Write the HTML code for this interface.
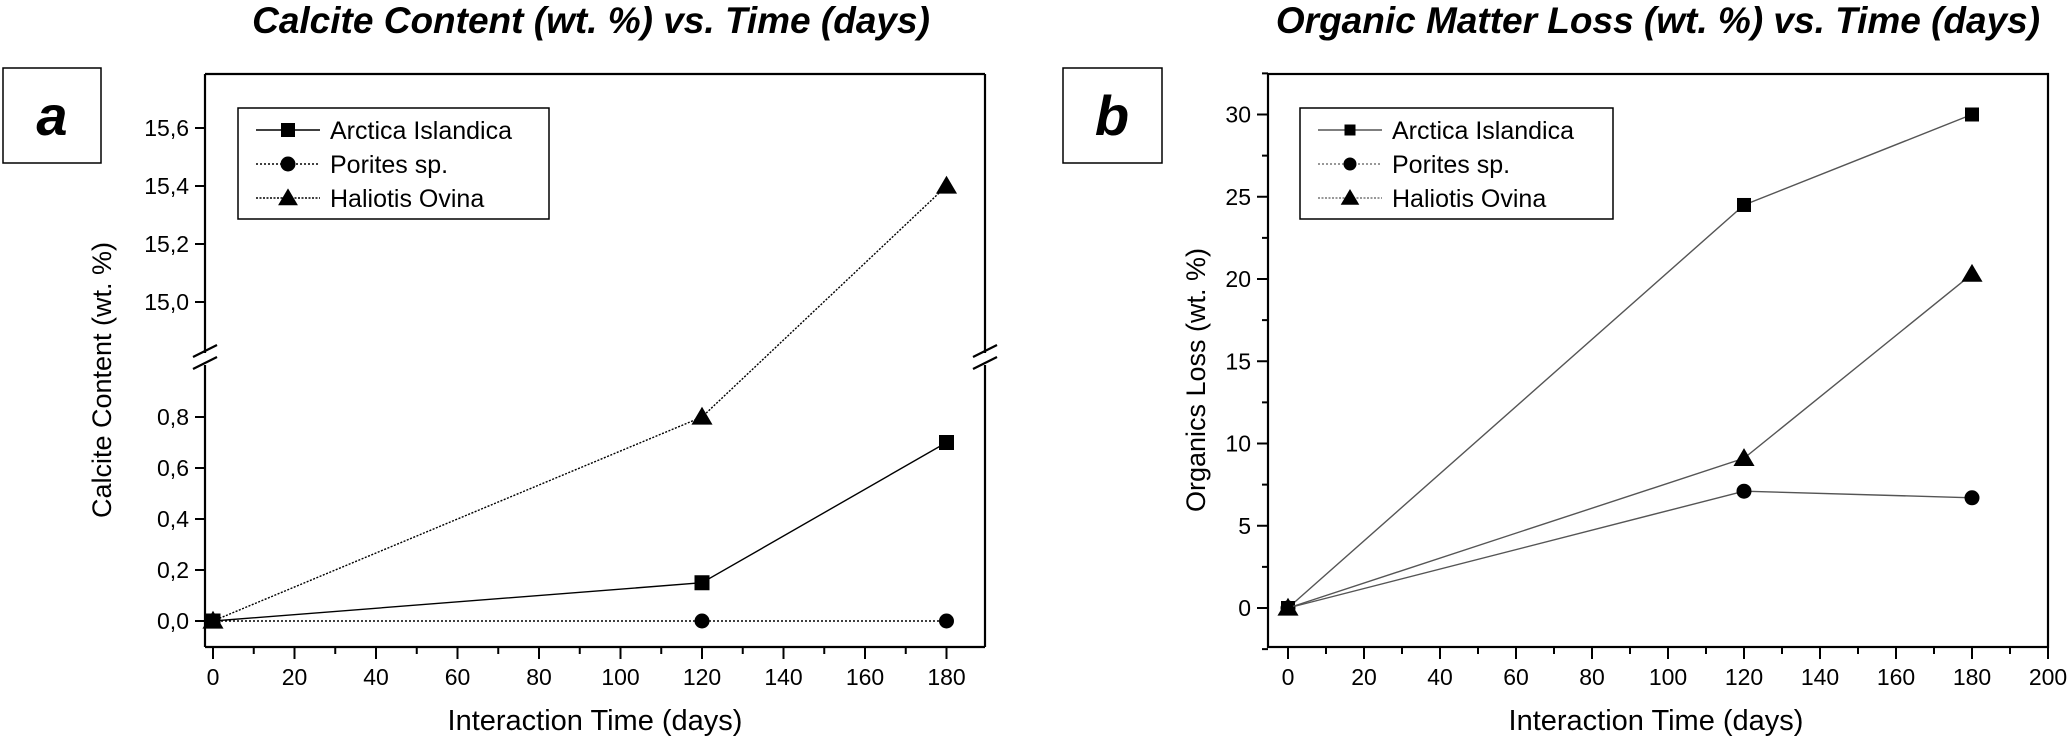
<!DOCTYPE html>
<html><head><meta charset="utf-8"><style>
html,body{margin:0;padding:0;background:#fff;}
svg{display:block;font-family:"Liberation Sans",Arial,sans-serif;}
</style></head><body>
<svg id="c" width="2067" height="739" viewBox="0 0 2067 739" xmlns="http://www.w3.org/2000/svg"></svg>
<script>
const days = [0, 120, 180];
const calArctica = [0, 0.15, 0.7];
const calPorites = [0, 0, 0];
const calHaliotis = [0, 0.8, 15.4];
const orgArctica = [0, 24.5, 30];
const orgPorites = [0, 7.1, 6.7];
const orgHaliotis = [0, 9.1, 20.3];
const seriesNames = ["Arctica Islandica", "Porites sp.", "Haliotis Ovina"];
const xTicksA = [0, 20, 40, 60, 80, 100, 120, 140, 160, 180];
const xTicksB = [0, 20, 40, 60, 80, 100, 120, 140, 160, 180, 200];
const yTicksLow = [0, 0.2, 0.4, 0.6, 0.8];
const yTicksHigh = [15.0, 15.2, 15.4, 15.6];
const yTicksB = [0, 5, 10, 15, 20, 25, 30];

const NS = "http://www.w3.org/2000/svg";
const svg = document.getElementById('c');
function mk(tag, attrs, parent, text) {
  const e = document.createElementNS(NS, tag);
  for (const k in attrs) e.setAttribute(k, attrs[k]);
  if (text !== undefined) e.textContent = text;
  (parent || svg).appendChild(e);
  return e;
}
function fmt(v){ return v.toFixed(1).replace('.', ','); }

// ---------- Panel A ----------
const A = {l:205, r:985, t:74, b:647};
const xA = v => 213 + v * 4.075;
const yLow = v => 621 - v * 255;
const yHigh = v => 302 - (v - 15.0) * 290;
const breakY = 353, breakY2 = 365;
const yA = v => v > 5 ? yHigh(v) : yLow(v);

const gA = mk('g', {}, svg);



let t = mk('text', {x:(A.l+A.r)/2 - 4, y:33, 'font-size':37, 'font-weight':'bold', 'font-style':'italic', 'text-anchor':'middle'}, gA, 'Calcite Content (wt. %) vs. Time (days)');



let box = mk('g', {}, gA);


mk('rect', {x:3, y:68, width:98, height:95, fill:'#fff', stroke:'#000', 'stroke-width':1.5}, box);
mk('text', {x:52, y:135, 'font-size':56, 'font-weight':'bold', 'font-style':'italic', 'text-anchor':'middle'}, box, 'a');

let fr = mk('g', {stroke:'#000', 'stroke-width':2.2, fill:'none'}, gA);


mk('line', {x1:A.l, y1:A.t, x2:A.r, y2:A.t}, fr);
mk('line', {x1:A.l, y1:A.b, x2:A.r, y2:A.b}, fr);
mk('line', {x1:A.l, y1:A.t, x2:A.l, y2:breakY}, fr);
mk('line', {x1:A.l, y1:breakY2, x2:A.l, y2:A.b}, fr);
mk('line', {x1:A.r, y1:A.t, x2:A.r, y2:breakY}, fr);
mk('line', {x1:A.r, y1:breakY2, x2:A.r, y2:A.b}, fr);
[A.l, A.r].forEach(x => {
  mk('line', {x1:x-12, y1:breakY+4, x2:x+12, y2:breakY-8}, fr);
  mk('line', {x1:x-12, y1:breakY2+4, x2:x+12, y2:breakY2-8}, fr);
});

let xa = mk('g', {}, gA);


for (let v = 0; v <= 180; v += 10) {
  const major = v % 20 === 0;
  mk('line', {x1:xA(v), y1:A.b, x2:xA(v), y2:A.b + (major ? 12 : 7), stroke:'#000', 'stroke-width':2}, xa);
}
xTicksA.forEach(v => mk('text', {x:xA(v), y:685, 'font-size':23, 'text-anchor':'middle'}, xa, String(v)));
t = mk('text', {x:595, y:730, 'font-size':29, 'text-anchor':'middle'}, gA, 'Interaction Time (days)');



let ya = mk('g', {}, gA);


yTicksLow.forEach(v => {
  mk('line', {x1:A.l-10, y1:yLow(v), x2:A.l, y2:yLow(v), stroke:'#000', 'stroke-width':2}, ya);
  mk('text', {x:A.l-16, y:yLow(v)+8, 'font-size':23, 'text-anchor':'end'}, ya, fmt(v));
});
yTicksHigh.forEach(v => {
  mk('line', {x1:A.l-10, y1:yHigh(v), x2:A.l, y2:yHigh(v), stroke:'#000', 'stroke-width':2}, ya);
  mk('text', {x:A.l-16, y:yHigh(v)+8, 'font-size':23, 'text-anchor':'end'}, ya, fmt(v));
});
t = mk('text', {x:0, y:0, 'font-size':27, 'text-anchor':'middle', transform:'translate(111,380) rotate(-90)'}, gA, 'Calcite Content (wt. %)');



// ---------- Panel B ----------
const B = {l:1268, r:2048, t:74, b:647};
const xB = v => 1288 + v * 3.8;
const yB = v => 608 - v * 16.45;

const gB = mk('g', {}, svg);



t = mk('text', {x:(B.l+B.r)/2, y:33, 'font-size':37, 'font-weight':'bold', 'font-style':'italic', 'text-anchor':'middle'}, gB, 'Organic Matter Loss (wt. %) vs. Time (days)');



box = mk('g', {}, gB);


mk('rect', {x:1063, y:68, width:99, height:95, fill:'#fff', stroke:'#000', 'stroke-width':1.5}, box);
mk('text', {x:1112, y:135, 'font-size':56, 'font-weight':'bold', 'font-style':'italic', 'text-anchor':'middle'}, box, 'b');

fr = mk('rect', {x:B.l, y:B.t, width:B.r-B.l, height:B.b-B.t, fill:'none', stroke:'#000', 'stroke-width':2.2}, gB);



let xb = mk('g', {}, gB);


for (let v = 0; v <= 200; v += 10) {
  const major = v % 20 === 0;
  mk('line', {x1:xB(v), y1:B.b, x2:xB(v), y2:B.b + (major ? 12 : 7), stroke:'#000', 'stroke-width':2}, xb);
}
xTicksB.forEach(v => mk('text', {x:xB(v), y:685, 'font-size':23, 'text-anchor':'middle'}, xb, String(v)));
t = mk('text', {x:1656, y:730, 'font-size':29, 'text-anchor':'middle'}, gB, 'Interaction Time (days)');



let yb = mk('g', {}, gB);


for (let v = -2.5; v <= 32.5; v += 2.5) {
  const major = Math.abs(v % 5) < 1e-6;
  mk('line', {x1:B.l - (major ? 11 : 6), y1:yB(v), x2:B.l, y2:yB(v), stroke:'#000', 'stroke-width':2}, yb);
}
yTicksB.forEach(v => mk('text', {x:B.l-17, y:yB(v)+8, 'font-size':23, 'text-anchor':'end'}, yb, String(v)));
t = mk('text', {x:0, y:0, 'font-size':27, 'text-anchor':'middle', transform:'translate(1205,380) rotate(-90)'}, gB, 'Organics Loss (wt. %)');



function marker(g, shape, x, y, s) {
  if (shape === 'square') return mk('rect', {x:x-s/2, y:y-s/2, width:s, height:s, fill:'#000'}, g);
  if (shape === 'circle') return mk('circle', {cx:x, cy:y, r:s/2, fill:'#000'}, g);
  return mk('polygon', {points:`${x},${y-s*0.6} ${x-s*0.62},${y+s*0.45} ${x+s*0.62},${y+s*0.45}`, fill:'#000'}, g);
}
function drawSeries(parent, name, xs, ys, xf, yf, shape, dash, color, size) {
  const g = mk('g', {}, parent);
  
  
  const pts = xs.map((x, i) => `${xf(x)},${yf(ys[i])}`).join(' ');
  const pl = mk('polyline', {points:pts, fill:'none', stroke:color, 'stroke-width':1.4, 'stroke-dasharray':dash}, g);
  
  
  xs.forEach((x, i) => {
    const m = marker(g, shape, xf(x), yf(ys[i]), size);
    
    
  });
}
drawSeries(gA, 'series-a-porites', days, calPorites, xA, yA, 'circle', '2,2', '#000', 15);
drawSeries(gA, 'series-a-arctica', days, calArctica, xA, yA, 'square', 'none', '#000', 15);
drawSeries(gA, 'series-a-haliotis', days, calHaliotis, xA, yA, 'triangle', '2,1.5', '#000', 17);

drawSeries(gB, 'series-b-porites', days, orgPorites, xB, yB, 'circle', 'none', '#555', 15);
drawSeries(gB, 'series-b-arctica', days, orgArctica, xB, yB, 'square', 'none', '#555', 14);
drawSeries(gB, 'series-b-haliotis', days, orgHaliotis, xB, yB, 'triangle', 'none', '#555', 17);

function legend(parent, name, x, y, w, h, dashes, colors, sizes) {
  const g = mk('g', {}, parent);
  
  
  mk('rect', {x:x, y:y, width:w, height:h, fill:'#fff', stroke:'#000', 'stroke-width':1.5}, g);
  const shapes = ['square', 'circle', 'triangle'];
  seriesNames.forEach((n, i) => {
    const ey = y + 22 + i * 34;
    const e = mk('g', {}, g);
    
    
    mk('line', {x1:x+18, y1:ey, x2:x+82, y2:ey, stroke:colors[i], 'stroke-width':1.4, 'stroke-dasharray':dashes[i]}, e);
    marker(e, shapes[i], x+50, ey, sizes[i]);
    mk('text', {x:x+92, y:ey+9, 'font-size':25}, e, n);
  });
}
legend(gA, 'panel-a-legend', 238, 108, 311, 111, ['none', '2,2', '2,1.5'], ['#000', '#000', '#000'], [14, 15, 16]);
legend(gB, 'panel-b-legend', 1300, 108, 313, 111, ['none', '2,2', '2,1.5'], ['#555', '#777', '#777'], [11, 13, 15]);
</script>
</body></html>
